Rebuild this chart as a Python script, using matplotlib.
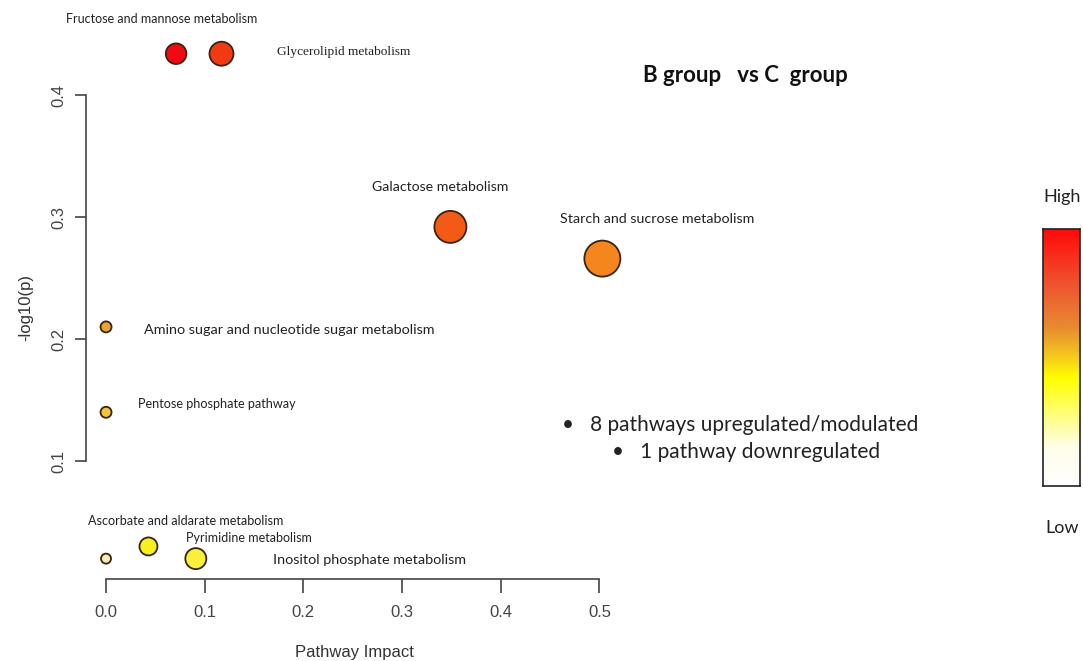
import numpy as np
import matplotlib
matplotlib.use("Agg")
import matplotlib.pyplot as plt
from matplotlib.colors import LinearSegmentedColormap

# pathway data
pathways = [
    "Fructose and mannose metabolism",
    "Glycerolipid metabolism",
    "Galactose metabolism",
    "Starch and sucrose metabolism",
    "Amino sugar and nucleotide sugar metabolism",
    "Pentose phosphate pathway",
    "Ascorbate and aldarate metabolism",
    "Pyrimidine metabolism",
    "Inositol phosphate metabolism",
]
impact = [0.071, 0.117, 0.349, 0.503, 0.0, 0.0, 0.0, 0.043, 0.091]
neg_log_p = [0.434, 0.434, 0.292, 0.266, 0.210, 0.140, 0.020, 0.030, 0.020]
bubble_radius = [10.3, 12, 16, 18, 5.5, 5.5, 5, 9, 10.5]   # pixels
point_colors = ["#F20A12", "#F23A12", "#F25A16", "#F5861E", "#E8A62A",
                "#EFC63C", "#F4EEB4", "#F6F01E", "#F8F03A"]

# label placement, offsets from the point in pixels (left edge, v-centre)
label_offsets = [(-110, 35), (56, 2), (-78, 40), (-42, 40), (38, -3),
                 (32, 8), (-18, 38), (38, 8), (77, -1)]
label_sizes = [9, 9.6, 10.2, 10.3, 10.4, 9.1, 9.1, 9.0, 10.4]

x_ticks = [0.0, 0.1, 0.2, 0.3, 0.4, 0.5]
y_ticks = [0.1, 0.2, 0.3, 0.4]

W, H = 1083, 661
fig = plt.figure(figsize=(W / 100, H / 100), dpi=100)

# axes placed in pixel terms
ax = fig.add_axes([86 / W, (H - 579) / H, 543 / W, 557 / H])
ax.set_xlim(-0.0203, 0.53)
ax.set_ylim(0.0033, 0.46)

sizes = [(2 * r * 0.72) ** 2 for r in bubble_radius]
ax.scatter(impact, neg_log_p, s=sizes, c=point_colors, edgecolors="#3a2410",
           linewidths=1.3, zorder=3, clip_on=False)

for i, name in enumerate(pathways):
    fam = "Liberation Serif" if name == "Glycerolipid metabolism" else "Lato"
    ax.annotate(name, (impact[i], neg_log_p[i]), xytext=label_offsets[i],
                textcoords="offset pixels", ha="left", va="center",
                fontsize=label_sizes[i], family=fam, color="#222222",
                annotation_clip=False)

for side in ["top", "right"]:
    ax.spines[side].set_visible(False)
ax.spines["left"].set_bounds(0.1, 0.4)
ax.spines["bottom"].set_bounds(0.0, 0.5)
for side in ["left", "bottom"]:
    ax.spines[side].set_color("#444444")
    ax.spines[side].set_linewidth(1.2)

ax.set_xticks(x_ticks)
ax.set_xticklabels([f"{t:.1f}" for t in x_ticks])
ax.set_yticks(y_ticks)
ax.set_yticklabels([f"{t:.1f}" for t in y_ticks], rotation=90, va="center")
ax.tick_params(axis="both", length=8, width=1.2, color="#444444",
               labelsize=12, labelcolor="#444444", pad=6,
               labelfontfamily="Liberation Sans")
ax.tick_params(axis="x", length=10, pad=9)

ax.set_xlabel("Pathway Impact", fontsize=12, family="Liberation Sans",
              color="#333333")
ax.xaxis.set_label_coords(0.495, -0.1185)
ax.set_ylabel("-log10(p)", fontsize=12, family="Liberation Sans",
              color="#333333")
ax.yaxis.set_label_coords(-0.0976, 0.488)

# title and notes
fig.text(745 / W, 1 - 76 / H, "B group   vs C  group", ha="center",
         va="center", fontsize=16, fontweight="bold", family="Lato",
         color="#111111")
fig.text(562 / W, 1 - 425 / H, "\u2022   8 pathways upregulated/modulated",
         ha="left", va="center", fontsize=15, family="Lato", color="#222222")
fig.text(612 / W, 1 - 452 / H, "\u2022   1 pathway downregulated",
         ha="left", va="center", fontsize=15, family="Lato", color="#222222")

# colour key
cmap = LinearSegmentedColormap.from_list("key", [
    (0.0, "#FFFFFF"), (0.15, "#FFFDEA"), (0.42, "#FFFF00"),
    (0.52, "#F2C020"), (0.62, "#E88A30"), (0.78, "#EE5530"),
    (1.0, "#FF0A0A")])
cax = fig.add_axes([1043 / W, (H - 486) / H, 37 / W, 257 / H])
grad = np.linspace(0, 1, 256).reshape(-1, 1)
cax.imshow(grad, aspect="auto", cmap=cmap, origin="lower")
cax.set_xticks([])
cax.set_yticks([])
for sp in cax.spines.values():
    sp.set_linewidth(1.2)
    sp.set_color("#222222")
fig.text(1062 / W, 1 - 197 / H, "High", ha="center", va="center",
         fontsize=13, family="Lato", color="#222222")
fig.text(1062 / W, 1 - 528 / H, "Low", ha="center", va="center",
         fontsize=13, family="Lato", color="#222222")

fig.savefig("out.png", dpi=100)
